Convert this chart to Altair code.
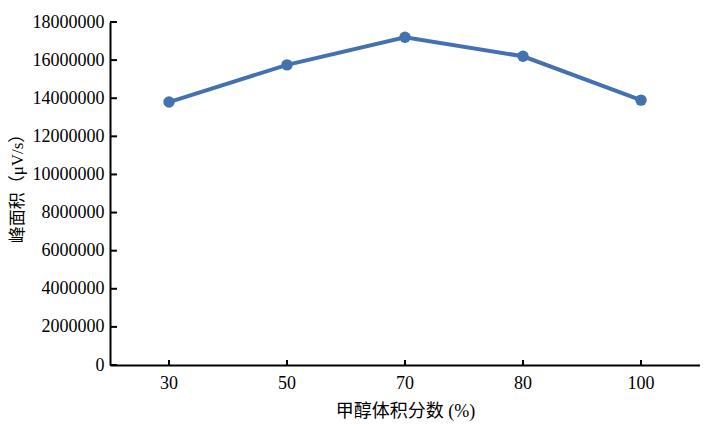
import altair as alt
import pandas as pd

categories = ["30", "50", "70", "80", "100"]
peak_area = [13800000, 15750000, 17200000, 16200000, 13900000]
y_ticks = [0, 2000000, 4000000, 6000000, 8000000, 10000000, 12000000, 14000000, 16000000, 18000000]

df = pd.DataFrame({"x": categories, "y": peak_area})
ydf = pd.DataFrame({"t": y_ticks})
xdf = pd.DataFrame({"x": categories})

FONT = "Liberation Serif, Noto Sans CJK SC"
W, H = 590, 343
COLOR = "#4472B0"

xscale = alt.Scale(domain=categories, paddingInner=0, paddingOuter=0)
yscale = alt.Scale(domain=[0, 18000000], nice=False)

x_axis = alt.Axis(title="甲醇体积分数 (%)", labelAngle=0, labelPadding=9, titlePadding=10,
                  labelFontSize=18, titleFontSize=18)
y_axis = alt.Axis(title="峰面积（μV/s）", values=y_ticks, format="d", labelPadding=6,
                  titlePadding=6, labelOverlap=False, labelFontSize=18, titleFontSize=17,
                  titleY=162)

line = alt.Chart(df).mark_line(color=COLOR, strokeWidth=4).encode(
    x=alt.X("x:N", scale=xscale, sort=categories, axis=x_axis),
    y=alt.Y("y:Q", scale=yscale, axis=y_axis))
pts = alt.Chart(df).mark_point(filled=True, color=COLOR, size=130, opacity=1).encode(
    x=alt.X("x:N", scale=xscale, sort=categories, axis=x_axis),
    y=alt.Y("y:Q", scale=yscale, axis=y_axis))

ytk = alt.Chart(ydf).mark_rule(color="black", strokeWidth=2).encode(
    y=alt.Y("t:Q", scale=yscale, axis=y_axis), x=alt.value(0), x2=alt.value(7))
xtk = alt.Chart(xdf).mark_rule(color="black", strokeWidth=2).encode(
    x=alt.X("x:N", scale=xscale, sort=categories, axis=x_axis), y=alt.value(H), y2=alt.value(H - 5))

chart = alt.layer(line, pts, xtk, ytk).properties(
    width=W, height=H,
    autosize=alt.AutoSizeParams(type="none"),
    padding={"left": 102, "top": 14, "right": 0, "bottom": 58},
).configure(background="white").configure_view(stroke=None).configure_axis(
    tickSize=0, domainColor="black", domainWidth=2, grid=False,
    labelColor="black", titleColor="black", titleFontWeight="normal",
    labelFont=FONT, titleFont=FONT)

chart.save("out.html", embed_options={"renderer": "svg", "actions": False})
